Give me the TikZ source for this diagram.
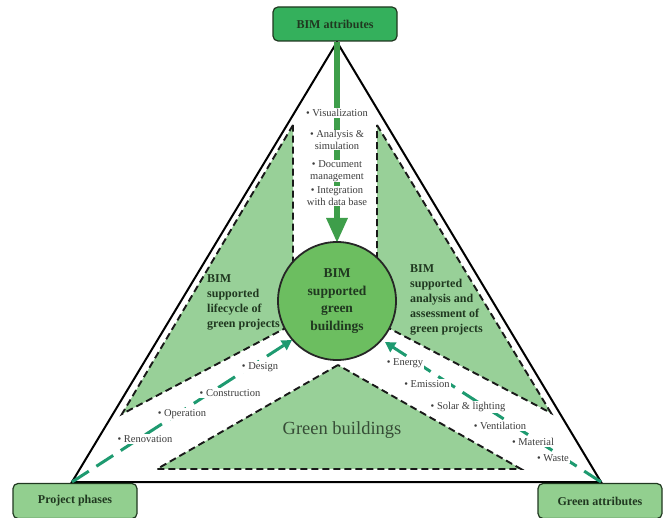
\documentclass[tikz,border=0pt]{standalone}
\usepackage{fontspec}
\setmainfont{Liberation Serif}
\usetikzlibrary{arrows.meta}
\usetikzlibrary{positioning}

\definecolor{regiongreen}{RGB}{152,208,152}
\definecolor{coregreen}{RGB}{108,190,96}
\definecolor{bimgreen}{RGB}{52,176,92}
\definecolor{boxgreen}{RGB}{146,207,143}
\definecolor{stemgreen}{RGB}{62,158,74}
\definecolor{tealgreen}{RGB}{30,154,112}
\definecolor{inkgreen}{RGB}{32,56,32}
\definecolor{labelgray}{RGB}{60,60,60}

\begin{document}
\begin{tikzpicture}[x=1pt,y=-1pt,
  attrbox/.style={draw=inkgreen,line width=1.2pt,rounded corners=5pt,minimum width=124pt,minimum height=34pt,font=\fontsize{12}{14}\selectfont\bfseries,text=inkgreen},
  region/.style={fill=regiongreen,draw=black!90,line width=1.9pt,dash pattern=on 7pt off 4pt},
  item/.style={fill=white,inner sep=1pt,font=\fontsize{10.5}{11.5}\selectfont,text=labelgray,align=center},
  flow/.style={draw=tealgreen,line width=3pt,dash pattern=on 20pt off 9pt,-{Triangle[width=11pt,length=10pt]}},
  note/.style={inner sep=0pt,font=\fontsize{12}{15}\selectfont\bfseries,text=inkgreen,align=left}]
  \useasboundingbox (0,0) rectangle (666,518);

  % outer triangle
  \coordinate (apex) at (337,42);
  \coordinate (lcorner) at (72,482);
  \coordinate (rcorner) at (601,482);
  \draw[line width=2pt,line join=miter] (apex)--(lcorner)--(rcorner)--cycle;

  % shaded regions
  \path[region] (293,125) -- (122,414) -- (337,301) -- (293,301) -- cycle;
  \path[region] (377,125) -- (551,413) -- (337,301) -- (377,301) -- cycle;
  \path[region] (338,365) -- (157,469) -- (521,469) -- cycle;

  % arrows into the centre
  \coordinate (lifeend) at (292,340);
  \coordinate (assessend) at (385,342);
  \draw[stemgreen,line width=6pt,-{Triangle[width=20pt,length=25pt]}] (apex) -- (337,243);
  \draw[flow] (lcorner) -- (lifeend);
  \draw[flow] (rcorner) -- (assessend);

  % BIM attribute items
  \node[item] (visual) at (337,113) {• Visualization};
  \node[item] (analysis) at (337,140) {• Analysis \&\\simulation};
  \node[item] (docmgmt) at (337,171) {• Document\\management};
  \node[item] (integration) at (337,196) {• Integration\\with data base};

  % project phase items
  \node[item] (design) at (260,367) {• Design};
  \node[item] (construction) at (230,393) {• Construction};
  \node[item] (operation) at (182,414) {• Operation};
  \node[item] (renovation) at (145,439) {• Renovation};

  % green attribute items
  \node[item] (energy) at (405,363) {• Energy};
  \node[item] (emission) at (427,384) {• Emission};
  \node[item] (solar) at (468,407) {• Solar \& lighting};
  \node[item] (ventilation) at (500,426) {• Ventilation};
  \node[item] (material) at (533,442) {• Material};
  \node[item] (waste) at (553,458) {• Waste};

  % region notes
  \node[note,anchor=west] (lifenote) at (207,302) {BIM\\supported\\lifecycle of\\green projects};
  \node[note,anchor=west] (assessnote) at (410,300) {BIM\\supported\\analysis and\\assessment of\\green projects};
  \node[font=\fontsize{18.5}{20}\selectfont,text=inkgreen!90] (greenbldg) at (342,430) {Green buildings};

  % centre
  \node[circle,draw=black!85,line width=1.8pt,fill=coregreen,minimum size=118pt,inner sep=0pt,
        font=\fontsize{13.5}{17.5}\selectfont\bfseries,text=inkgreen,align=center] (core) at (337,301)
        {BIM\\supported\\green\\buildings};

  % corner boxes
  \node[attrbox,fill=bimgreen] (bimattr) at (335,24) {BIM attributes};
  \node[attrbox,fill=boxgreen,minimum height=35pt] (phases) at (75,501) {Project phases};
  \node[attrbox,fill=boxgreen,minimum height=35pt] (greenattr) at (600,501) {Green attributes};
\end{tikzpicture}
\end{document}
